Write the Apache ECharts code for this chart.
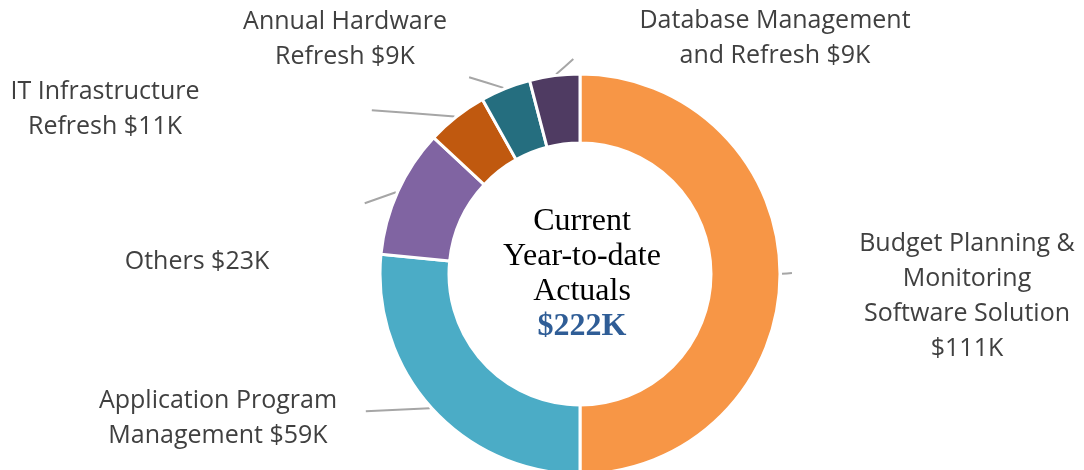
<!DOCTYPE html>
<html>
<head>
<meta charset="utf-8">
<script src="https://cdn.jsdelivr.net/npm/echarts@6/dist/echarts.min.js"></script>
<style>
html, body { margin: 0; padding: 0; background: #fff; }
#chart { width: 1084px; height: 470px; }
</style>
</head>
<body>
<div id="chart"></div>
<script>
const categories = [
  'Budget Planning &\nMonitoring\nSoftware Solution',
  'Application Program\nManagement',
  'Others',
  'IT Infrastructure\nRefresh',
  'Annual Hardware\nRefresh',
  'Database Management\nand Refresh'
]
const values = [111, 59, 23, 11, 9, 9]
const valueSeparators = ['\n', ' ', ' ', ' ', ' ', ' ']
const sliceColors = ['#F79646', '#4BACC6', '#8064A2', '#C0590F', '#256E7F', '#4F3B62']
const centerLines = ['Current', 'Year-to-date', 'Actuals']

// label block centres, leader stub lengths and where each stub points (layout only)
const labelCenters = [[967, 296], [218, 418], [197, 262], [105, 109], [345, 39], [775, 38]]
const leaderLengths = [10, 64, 33, 83, 36, 23]
const leaderTargets = [[967, 260], [218, 418], [197, 262], [105, 90], [345, 39], [640, 0]]

const total = values.reduce((a, b) => a + b, 0)
const chart = echarts.init(document.getElementById('chart'))

chart.setOption({
  animation: false,
  color: sliceColors,
  graphic: [
    {
      type: 'text',
      x: 582,
      y: 274,
      style: {
        text: centerLines.join('\n') + '\n{v|$' + total + 'K}',
        align: 'center',
        verticalAlign: 'middle',
        font: '32px "Liberation Serif"',
        fill: '#000',
        lineHeight: 35,
        rich: {
          v: { fontFamily: 'Liberation Serif', fontSize: 32, fontWeight: 'bold', fill: '#2F5D96', lineHeight: 35 }
        }
      }
    }
  ],
  series: [
    {
      type: 'pie',
      center: [580, 274],
      radius: [131, 200],
      startAngle: 90,
      clockwise: true,
      avoidLabelOverlap: false,
      itemStyle: { borderColor: '#fff', borderWidth: 3 },
      label: {
        show: true,
        position: 'outside',
        fontFamily: 'Open Sans',
        fontSize: 25,
        color: '#404040',
        lineHeight: 35,
        align: 'center',
        formatter: p => p.name + valueSeparators[p.dataIndex] + '$' + p.value + 'K'
      },
      labelLine: { show: true, lineStyle: { color: '#A6A6A6', width: 2 } },
      labelLayout: function (p) {
        const i = p.dataIndex
        const c = labelCenters[i]
        const t = leaderTargets[i]
        const s = p.labelLinePoints[0]
        let dx = t[0] - s[0]
        let dy = t[1] - s[1]
        const d = Math.hypot(dx, dy)
        dx /= d
        dy /= d
        const L = leaderLengths[i]
        const a = [s[0] + dx * 2, s[1] + dy * 2]
        const b = [s[0] + dx * (2 + L), s[1] + dy * (2 + L)]
        return {
          x: c[0],
          y: c[1],
          align: 'center',
          verticalAlign: 'middle',
          labelLinePoints: [a, [(a[0] + b[0]) / 2, (a[1] + b[1]) / 2], b]
        }
      },
      emphasis: { disabled: true },
      data: categories.map((name, i) => ({ name: name, value: values[i] }))
    }
  ]
})
</script>
</body>
</html>
